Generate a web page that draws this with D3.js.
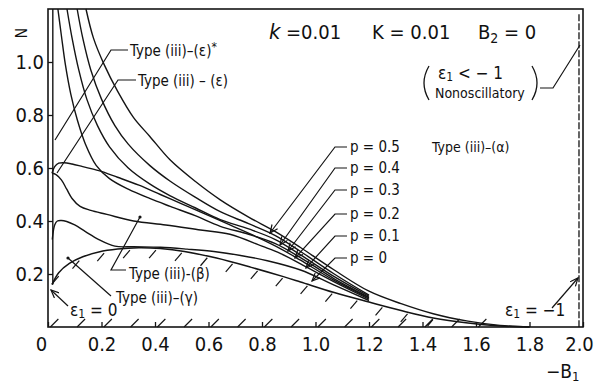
<!DOCTYPE html>
<html>
<head>
<meta charset="utf-8">
<script src="https://cdn.jsdelivr.net/npm/d3@7"></script>
<style>
  body { margin: 0; background: #fff; }
  svg { display: block; }
  text { font-family: "Liberation Sans Narrow", "DejaVu Sans Condensed", "Liberation Sans", sans-serif; fill: #111; }
</style>
</head>
<body>
<svg id="chart" width="601" height="387"></svg>
<script>
// axis ticks
const xTicks = [0, 0.2, 0.4, 0.6, 0.8, 1.0, 1.2, 1.4, 1.6, 1.8, 2.0];
const xTickLabels = ["0", "0.2", "0.4", "0.6", "0.8", "1.0", "1.2", "1.4", "1.6", "1.8", "2.0"];
const yTicks = [0.2, 0.4, 0.6, 0.8, 1.0];
const yTickLabels = ["0.2", "0.4", "0.6", "0.8", "1.0"];

// curves: -B1 values and N values
const h4B = [0.142, 0.17, 0.21, 0.26, 0.32, 0.38, 0.457, 0.55, 0.644, 0.75, 0.85, 0.944, 1.07, 1.2, 1.32, 1.44, 1.57, 1.69, 1.8];
const h4N = [1.2, 1.09, 0.99, 0.89, 0.79, 0.72, 0.63, 0.55, 0.48, 0.415, 0.36, 0.30, 0.215, 0.135, 0.088, 0.05, 0.022, 0.006, 0.0];

const h3B = [0.109, 0.13, 0.16, 0.2, 0.25, 0.30, 0.38, 0.457, 0.55, 0.644, 0.75, 0.85, 0.944, 1.07, 1.2];
const h3N = [1.2, 1.09, 0.97, 0.86, 0.76, 0.69, 0.61, 0.55, 0.49, 0.435, 0.39, 0.345, 0.285, 0.2, 0.12];

const h2B = [0.071, 0.09, 0.115, 0.145, 0.185, 0.23, 0.30, 0.38, 0.457, 0.55, 0.644, 0.75, 0.85, 0.944, 1.07, 1.2];
const h2N = [1.2, 1.09, 0.97, 0.86, 0.76, 0.68, 0.60, 0.54, 0.495, 0.45, 0.405, 0.37, 0.33, 0.272, 0.19, 0.116];

const h1B = [0.037, 0.05, 0.065, 0.085, 0.11, 0.14, 0.18, 0.23, 0.30, 0.38, 0.457, 0.55, 0.644, 0.75, 0.85, 0.944, 1.07, 1.2];
const h1N = [1.2, 1.1, 0.99, 0.88, 0.78, 0.69, 0.61, 0.56, 0.52, 0.485, 0.455, 0.42, 0.38, 0.35, 0.315, 0.262, 0.182, 0.112];

const humpB = [0.015, 0.025, 0.04, 0.06, 0.09, 0.13, 0.19, 0.26, 0.34, 0.42, 0.5, 0.58, 0.68, 0.78, 0.87, 0.944, 1.07, 1.2];
const humpN = [0.58, 0.605, 0.618, 0.62, 0.615, 0.605, 0.59, 0.565, 0.535, 0.50, 0.465, 0.43, 0.385, 0.34, 0.295, 0.252, 0.176, 0.11];

const loopB = [0.015, 0.03, 0.05, 0.07, 0.09, 0.12, 0.16, 0.22, 0.32, 0.44, 0.57, 0.68, 0.8, 0.87, 0.944, 1.07, 1.2];
const loopN = [0.58, 0.575, 0.555, 0.52, 0.485, 0.455, 0.44, 0.425, 0.40, 0.385, 0.366, 0.35, 0.305, 0.277, 0.238, 0.17, 0.105];

const gammaB = [0.016, 0.025, 0.035, 0.05, 0.07, 0.1, 0.14, 0.19, 0.25, 0.32, 0.42, 0.52, 0.62, 0.72, 0.82, 0.944, 1.07, 1.2];
const gammaN = [0.33, 0.385, 0.40, 0.402, 0.398, 0.385, 0.36, 0.33, 0.305, 0.303, 0.301, 0.294, 0.285, 0.27, 0.25, 0.215, 0.158, 0.10];

// hatched boundary
const edgeB = [0.015, 0.04, 0.08, 0.13, 0.19, 0.26, 0.34, 0.42, 0.51, 0.63, 0.76, 0.88, 0.944, 1.07, 1.2, 1.32, 1.44, 1.57, 1.69, 1.8];
const edgeN = [0.16, 0.205, 0.24, 0.265, 0.283, 0.294, 0.299, 0.296, 0.285, 0.26, 0.225, 0.19, 0.17, 0.13, 0.094, 0.062, 0.034, 0.015, 0.004, 0.0];

// vertical boundaries eps1 = 0 and eps1 = -1
const eps0B = [0.018, 0.018];
const eps0N = [1.2, 0.16];
const epsM1B = [1.985, 1.985];
const epsM1N = [1.18, 0.0];

const svg = d3.select("#chart");
const x = d3.scaleLinear().domain([0, 2]).range([48, 583]);
const y = d3.scaleLinear().domain([0, 1.2]).range([327, 9]);
const ink = "#141414";

svg.append("rect").attr("width", 601).attr("height", 387).attr("fill", "#fff");

svg.append("defs").append("marker")
  .attr("id", "arr").attr("viewBox", "-1 -4 10 8")
  .attr("refX", 8).attr("refY", 0)
  .attr("markerWidth", 10).attr("markerHeight", 8)
  .attr("markerUnits", "userSpaceOnUse")
  .attr("orient", "auto")
  .append("path").attr("d", "M0,-3.5L8,0L0,3.5")
  .attr("fill", "none").attr("stroke", ink).attr("stroke-width", 1.2);

// frame
svg.append("rect")
  .attr("x", x(0)).attr("y", y(1.2))
  .attr("width", x(2) - x(0)).attr("height", y(0) - y(1.2))
  .attr("fill", "none").attr("stroke", ink).attr("stroke-width", 1.6);

// axes
const gx = svg.append("g")
  .attr("transform", `translate(0,${y(0)})`)
  .call(d3.axisBottom(x).tickValues(xTicks).tickSize(-5).tickPadding(10)
    .tickFormat((d, i) => xTickLabels[i]));
gx.select(".domain").remove();
gx.selectAll("line").attr("stroke", ink).attr("stroke-width", 1.3);
gx.selectAll("text").attr("font-size", 20).attr("font-family", null).attr("fill", ink)
  .attr("dx", d => d === 0 ? -7 : (d === 2 ? -4 : 0));

const gy = svg.append("g")
  .attr("transform", `translate(${x(0)},0)`)
  .call(d3.axisLeft(y).tickValues(yTicks).tickSize(-5).tickPadding(4)
    .tickFormat((d, i) => yTickLabels[i]));
gy.select(".domain").remove();
gy.selectAll("line").attr("stroke", ink).attr("stroke-width", 1.3);
gy.selectAll("text").attr("font-size", 20).attr("font-family", null).attr("fill", ink);

// curves
const line = d3.line()
  .x(d => x(d[0])).y(d => y(d[1]))
  .curve(d3.curveCatmullRom.alpha(0.5));

const curves = [
  [h4B, h4N], [h3B, h3N], [h2B, h2N], [h1B, h1N],
  [humpB, humpN], [loopB, loopN], [gammaB, gammaN],
  [eps0B, eps0N]
];
curves.forEach(([b, n]) => {
  svg.append("path")
    .attr("d", line(b.map((v, i) => [v, n[i]])))
    .attr("fill", "none").attr("stroke", ink).attr("stroke-width", 1.4)
    .attr("stroke-linejoin", "round");
});

svg.append("path")
  .attr("d", line(epsM1B.map((v, i) => [v, epsM1N[i]])))
  .attr("fill", "none").attr("stroke", ink).attr("stroke-width", 1.3)
  .attr("stroke-dasharray", "7,2");

const edge = svg.append("path")
  .attr("d", line(edgeB.map((v, i) => [v, edgeN[i]])))
  .attr("fill", "none").attr("stroke", ink).attr("stroke-width", 1.5);

// hatching under the boundary curve
const node = edge.node();
const total = node.getTotalLength();
for (let s = 12; s < total; s += 26) {
  const p = node.getPointAtLength(s);
  if (p.x > x(1.72)) break;
  const y2 = Math.min(p.y + 10, y(0) - 1);
  const len = y2 - (p.y + 2);
  if (len < 3) continue;
  svg.append("line")
    .attr("x1", p.x + 1).attr("y1", p.y + 2)
    .attr("x2", p.x + 1 - len * 0.85).attr("y2", y2)
    .attr("stroke", ink).attr("stroke-width", 1.2);
}
// hatching along the axis
d3.range(0.02, 1.66, 0.1).forEach(b => {
  svg.append("line")
    .attr("x1", x(b) - 3).attr("y1", y(0))
    .attr("x2", x(b) + 5).attr("y2", y(0) - 8)
    .attr("stroke", ink).attr("stroke-width", 1.2);
});

// texts
function txt(s, tx, ty, size, extra) {
  const t = svg.append("text").attr("x", tx).attr("y", ty).attr("font-size", size).text(s);
  if (extra) extra(t);
  return t;
}
function seg(pts, arrow) {
  const p = svg.append("path").attr("d", d3.line()(pts))
    .attr("fill", "none").attr("stroke", ink).attr("stroke-width", 1.2);
  if (arrow) p.attr("marker-end", "url(#arr)");
}
function dot(cx, cy) {
  svg.append("circle").attr("cx", cx).attr("cy", cy).attr("r", 1.6).attr("fill", ink);
}

// axis titles
txt("N", 0, 0, 16, t => t.attr("transform", "translate(27,33) rotate(-90)").attr("text-anchor", "middle"));
const bt = txt("\u2212B", 546, 378, 19);
bt.append("tspan").attr("font-size", 13).attr("dy", 3).text("1");

// header
txt("k", 269, 39, 22, t => t.attr("font-family", "DejaVu Serif").attr("font-style", "italic"));
txt("=0.01", 286, 39, 20);
txt("K = 0.01", 372, 39, 20);
const b2 = txt("B", 478, 39, 20);
b2.append("tspan").attr("font-size", 14).attr("dy", 4).text("2");
b2.append("tspan").attr("dy", -4).text(" = 0");

// eps1 < -1 note, with thin brackets
svg.append("path").attr("d", "M429,66 Q419,83 429,100")
  .attr("fill", "none").attr("stroke", ink).attr("stroke-width", 1.3);
svg.append("path").attr("d", "M532,66 Q542,83 532,100")
  .attr("fill", "none").attr("stroke", ink).attr("stroke-width", 1.3);
const e1 = txt("\u03b5", 438, 79, 17);
e1.append("tspan").attr("font-size", 12).attr("dy", 2).text("1");
e1.append("tspan").attr("dy", -2).text(" < \u2212 1");
txt("Nonoscillatory", 435, 98, 14);
seg([[540, 88], [553, 88], [580, 45]]);

// type labels
const es = txt("Type  (iii)\u2013(\u03b5)", 130, 56, 15);
es.append("tspan").attr("dy", -5).attr("font-size", 12).text("*");
seg([[128, 50], [111, 50], [55, 140]]);
txt("Type  (iii) \u2013 (\u03b5)", 138, 86, 15);
seg([[136, 80], [118, 80], [57, 173]]);
txt("Type  (iii)\u2013(\u03b1)", 432, 152, 14);
txt("Type  (iii)-(\u03b2)", 129, 279, 15);
seg([[126, 270], [111, 270], [140, 217]]);
dot(140, 217);
txt("Type  (iii)\u2013(\u03b3)", 116, 303, 15);
seg([[111, 296], [68, 258]]);
dot(68, 258);

const e0 = txt("\u03b5", 70, 316, 17);
e0.append("tspan").attr("font-size", 12).attr("dy", 2).text("1");
e0.append("tspan").attr("dy", -2).text(" = 0");
seg([[68, 306], [51, 290]], true);

const em = txt("\u03b5", 505, 316, 17);
em.append("tspan").attr("font-size", 12).attr("dy", 2).text("1");
em.append("tspan").attr("dy", -2).text(" = \u22121");
seg([[552, 308], [578, 278]], true);

// p labels with leaders
const pLabels = ["p = 0.5", "p = 0.4", "p = 0.3", "p = 0.2", "p = 0.1", "p = 0"];
const pTextY = [152, 173, 195, 219, 241, 263];
const pTips = [[270, 233], [280, 245], [288, 251], [295, 258], [306, 268], [312, 281]];
pLabels.forEach((s, i) => {
  txt(s, 350, pTextY[i], 15);
  const ly = pTextY[i] - 5;
  seg([[347, ly], [335, ly], pTips[i]], true);
});
</script>
</body>
</html>
